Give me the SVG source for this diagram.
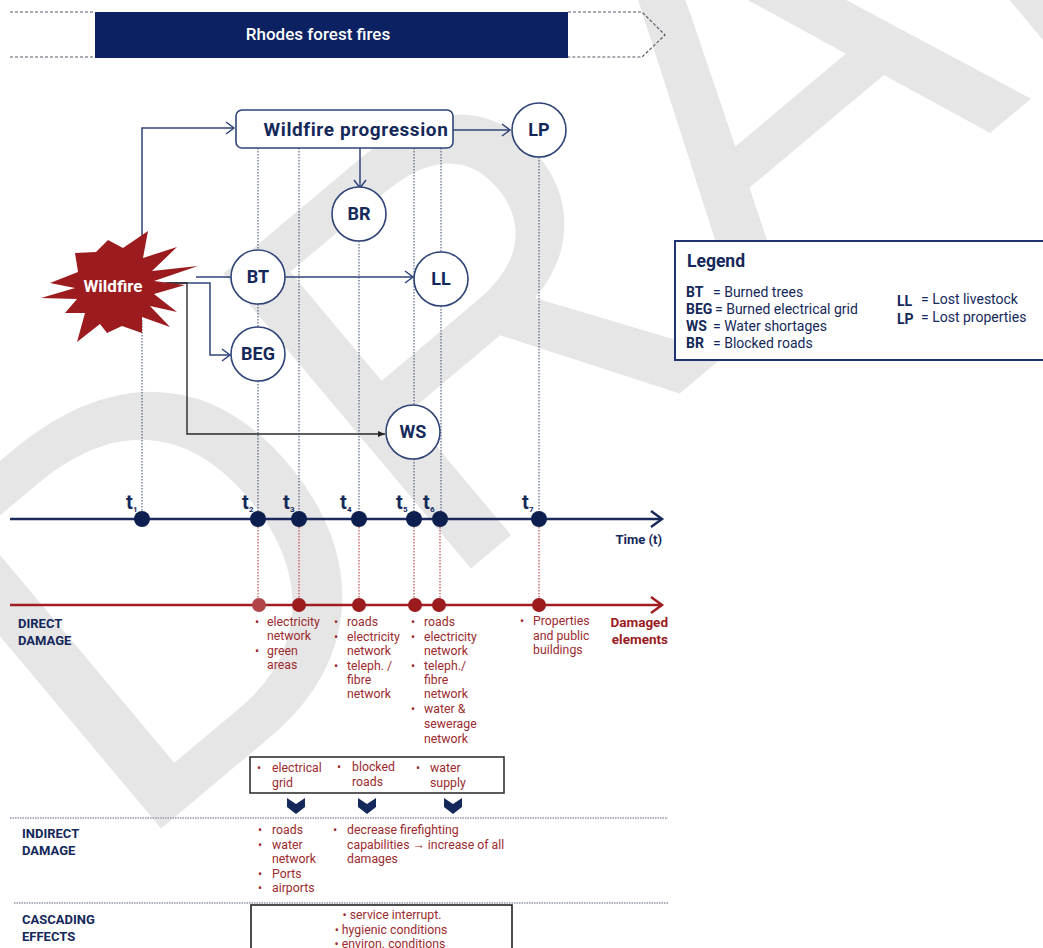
<svg xmlns="http://www.w3.org/2000/svg" width="1043" height="948" viewBox="0 0 1043 948">
  <style>
    .navy-t { font-family: Roboto, "Liberation Sans", sans-serif; fill: #14285a; font-weight: bold; }
    .red-t { font-family: Roboto, "Liberation Sans", sans-serif; fill: #9c2a2e; font-size: 12.3px; }
    .node-c { fill: #ffffff; stroke: #2f4477; stroke-width: 1.6; }
    .node-t { font-family: Roboto, "Liberation Sans", sans-serif; font-weight: bold; font-size: 18px; fill: #14285a; text-anchor: middle; }
    .conn { fill: none; stroke: #2f4477; stroke-width: 1.5; }
    .dot-navy { fill: none; stroke: #34446e; stroke-width: 1; stroke-dasharray: 1.5 1.5; }
    .dot-red { fill: none; stroke: #b5272c; stroke-width: 1; stroke-dasharray: 1.5 1.5; }
    .sep { fill: none; stroke: #a9b0bb; stroke-width: 2; stroke-dasharray: 1.5 1; }
    .hdr-dash { fill: none; stroke: #555a66; stroke-width: 1.2; stroke-dasharray: 3 2; }
    .tlab { font-family: Roboto, "Liberation Sans", sans-serif; font-weight: bold; font-size: 20px; fill: #14285a; }
    .tsub { font-family: Roboto, "Liberation Sans", sans-serif; font-weight: bold; font-size: 8px; fill: #14285a; }
    .leg-k { font-family: Roboto, "Liberation Sans", sans-serif; font-weight: bold; font-size: 14px; fill: #14285a; }
    .leg-v { font-family: Roboto, "Liberation Sans", sans-serif; font-size: 14px; fill: #14285a; }
  </style>
  <defs>
    <marker id="open" markerUnits="userSpaceOnUse" markerWidth="12" markerHeight="14" refX="9" refY="7" orient="auto">
      <path d="M1,1 L9,7 L1,13" fill="none" stroke="#2f4477" stroke-width="1.5"/>
    </marker>
    <marker id="solid" markerUnits="userSpaceOnUse" markerWidth="8" markerHeight="8" refX="7" refY="4" orient="auto">
      <path d="M0,1 L7,4 L0,7 Z" fill="#222"/>
    </marker>
    <marker id="axisNavy" markerUnits="userSpaceOnUse" markerWidth="16" markerHeight="20" refX="13" refY="10" orient="auto">
      <path d="M2,2 L13,10 L2,18" fill="none" stroke="#1b2a5c" stroke-width="2.5"/>
    </marker>
    <marker id="axisRed" markerUnits="userSpaceOnUse" markerWidth="16" markerHeight="20" refX="13" refY="10" orient="auto">
      <path d="M2,2 L13,10 L2,18" fill="none" stroke="#a11d22" stroke-width="2.5"/>
    </marker>
    <path id="chev" d="M-9,-8 L0,-2 L9,-8 L9,1 L0,8 L-9,1 Z" fill="#14285a"/>
  </defs>

  <rect width="1043" height="948" fill="#ffffff"/>

  <!-- watermark -->
  <text transform="translate(126,858) rotate(-40)" font-family="'Liberation Sans', sans-serif" font-size="560" fill="#e6e6e6">DRAFT</text>

  <!-- title banner -->
  <g id="title">
    <path class="hdr-dash" d="M10,12 H95 M10,57 H95 M568,12 H642 L665,35 L642,57 H568"/>
    <rect x="95" y="12" width="473" height="46" fill="#0b2161"/>
    <text x="318" y="40" font-family="Roboto, 'Liberation Sans', sans-serif" font-size="17" font-weight="500" fill="#ffffff" text-anchor="middle">Rhodes forest fires</text>
  </g>

  <!-- connectors -->
  <g id="connectors">
    <path class="conn" d="M142,240 V128 H234" marker-end="url(#open)"/>
    <path class="conn" d="M360,148 V188" marker-end="url(#open)"/>
    <path class="conn" d="M453,130 H510" marker-end="url(#open)"/>
    <path class="conn" d="M196,277 H231"/>
    <path class="conn" d="M285,277 H413" marker-end="url(#open)"/>
    <path class="conn" d="M167,283 H210 V355 H230" marker-end="url(#open)"/>
    <path d="M165,283 H187 V434 H385" fill="none" stroke="#2a2a2a" stroke-width="1.4" marker-end="url(#solid)"/>

    <!-- dotted time links -->
    <path class="dot-navy" d="M142,320 V519"/>
    <path class="dot-navy" d="M258,148 V250 M258,304 V327 M258,381 V519"/>
    <path class="dot-navy" d="M299,148 V519"/>
    <path class="dot-navy" d="M359,241 V519"/>
    <path class="dot-navy" d="M414,148 V405 M414,459 V519"/>
    <path class="dot-navy" d="M441,148 V252 M441,306 V519"/>
    <path class="dot-navy" d="M539,157 V519"/>

    <path class="dot-red" d="M258,527 V598 M299,527 V598 M359,527 V598 M414,527 V598 M440,527 V598 M539,527 V598"/>

    <!-- axes -->
    <path d="M10,519 H662" fill="none" stroke="#1b2a5c" stroke-width="2.5" marker-end="url(#axisNavy)"/>
    <path d="M10,605 H662" fill="none" stroke="#a11d22" stroke-width="2.5" marker-end="url(#axisRed)"/>
  </g>

  <!-- wildfire -->
  <g id="wildfire">
    <polygon fill="#9b1b1f" points="50,283 78,272 75,253 96,252 108,240 123,248 148,231 143,258 177,247 152,271 198,266 154,281 185,285 154,294 177,312 150,306 170,327 142,317 142,333 122,326 107,333 100,324 77,342 85,313 65,313 77,299 41,298 75,288"/>
    <text x="113" y="292" font-family="Roboto, 'Liberation Sans', sans-serif" font-weight="bold" font-size="17" fill="#ffffff" text-anchor="middle">Wildfire</text>
  </g>

  <g id="progression">
    <rect x="236" y="110" width="217" height="38" rx="6" fill="#ffffff" stroke="#2f4477" stroke-width="1.6"/>
    <text x="356" y="136" class="navy-t" font-size="19" letter-spacing="0.6" text-anchor="middle">Wildfire progression</text>
  </g>

  <g id="node-LP"><circle class="node-c" cx="539" cy="130" r="27"/><text class="node-t" x="539" y="136">LP</text></g>
  <g id="node-BR"><circle class="node-c" cx="359" cy="214" r="27"/><text class="node-t" x="359" y="220">BR</text></g>
  <g id="node-BT"><circle class="node-c" cx="258" cy="277" r="27"/><text class="node-t" x="258" y="283">BT</text></g>
  <g id="node-LL"><circle class="node-c" cx="441" cy="279" r="27"/><text class="node-t" x="441" y="285">LL</text></g>
  <g id="node-BEG"><circle class="node-c" cx="258" cy="354" r="27"/><text class="node-t" x="258" y="360">BEG</text></g>
  <g id="node-WS"><circle class="node-c" cx="413" cy="432" r="27"/><text class="node-t" x="413" y="438">WS</text></g>

  <!-- legend -->
  <g id="legend">
    <rect x="675" y="241" width="380" height="119" fill="#ffffff" stroke="#1f3470" stroke-width="2"/>
    <text x="687" y="267" class="navy-t" font-size="17.5">Legend</text>
    <text class="leg-k" x="686" y="297">BT</text><text class="leg-v" x="713" y="297">= Burned trees</text>
    <text class="leg-k" x="686" y="314">BEG</text><text class="leg-v" x="715" y="314">= Burned electrical grid</text>
    <text class="leg-k" x="686" y="331">WS</text><text class="leg-v" x="713" y="331">= Water shortages</text>
    <text class="leg-k" x="686" y="348">BR</text><text class="leg-v" x="713" y="348">= Blocked roads</text>
    <text class="leg-k" x="897" y="306">LL</text><text class="leg-v" x="921" y="304">= Lost livestock</text>
    <text class="leg-k" x="897" y="324">LP</text><text class="leg-v" x="921" y="322">= Lost properties</text>
  </g>

  <!-- time axis -->
  <g id="time-axis">
    <g fill="#0d1f4f">
      <circle cx="142" cy="519" r="8"/><circle cx="258" cy="519" r="8"/><circle cx="299" cy="519" r="8"/>
      <circle cx="359" cy="519" r="8"/><circle cx="414" cy="519" r="8"/><circle cx="440" cy="519" r="8"/>
      <circle cx="539" cy="519" r="8"/>
    </g>
    <text class="tlab" x="126" y="509">t</text><text class="tsub" x="133" y="512">1</text>
    <text class="tlab" x="242" y="509">t</text><text class="tsub" x="249" y="512">2</text>
    <text class="tlab" x="283" y="509">t</text><text class="tsub" x="290" y="512">3</text>
    <text class="tlab" x="340" y="509">t</text><text class="tsub" x="347" y="512">4</text>
    <text class="tlab" x="396" y="509">t</text><text class="tsub" x="403" y="512">5</text>
    <text class="tlab" x="423" y="509">t</text><text class="tsub" x="430" y="512">6</text>
    <text class="tlab" x="522" y="509">t</text><text class="tsub" x="529" y="512">7</text>
    <text x="662" y="544" class="navy-t" font-size="13" text-anchor="end">Time (t)</text>
  </g>

  <!-- direct damage -->
  <g id="direct-damage">
    <circle cx="259" cy="605" r="7" fill="#b04448"/>
    <g fill="#9b1b1f">
      <circle cx="299" cy="605" r="7"/><circle cx="359" cy="605" r="7"/><circle cx="415" cy="605" r="7"/>
      <circle cx="439" cy="605" r="7"/><circle cx="539" cy="605" r="7"/>
    </g>
    <text x="18" y="628" class="navy-t" font-size="13">DIRECT</text>
    <text x="18" y="645" class="navy-t" font-size="13">DAMAGE</text>
    <text x="668" y="627" font-family="Roboto, 'Liberation Sans', sans-serif" font-weight="bold" font-size="13.5" fill="#9b1b1f" text-anchor="end">Damaged</text>
    <text x="668" y="644" font-family="Roboto, 'Liberation Sans', sans-serif" font-weight="bold" font-size="13.5" fill="#9b1b1f" text-anchor="end">elements</text>
    <g class="red-t">
      <text x="255" y="626">•</text><text x="267" y="626">electricity</text>
      <text x="267" y="640">network</text>
      <text x="255" y="655">•</text><text x="267" y="655">green</text>
      <text x="267" y="669">areas</text>

      <text x="334" y="626">•</text><text x="347" y="626">roads</text>
      <text x="334" y="641">•</text><text x="347" y="641">electricity</text>
      <text x="347" y="655">network</text>
      <text x="334" y="670">•</text><text x="347" y="670">teleph. /</text>
      <text x="347" y="684">fibre</text>
      <text x="347" y="698">network</text>

      <text x="411" y="626">•</text><text x="424" y="626">roads</text>
      <text x="411" y="641">•</text><text x="424" y="641">electricity</text>
      <text x="424" y="655">network</text>
      <text x="411" y="670">•</text><text x="424" y="670">teleph./</text>
      <text x="424" y="684">fibre</text>
      <text x="424" y="698">network</text>
      <text x="411" y="713">•</text><text x="424" y="713">water &amp;</text>
      <text x="424" y="728">sewerage</text>
      <text x="424" y="743">network</text>

      <text x="520" y="625">•</text><text x="533" y="625">Properties</text>
      <text x="533" y="640">and public</text>
      <text x="533" y="654">buildings</text>
    </g>
  </g>

  <!-- affected systems -->
  <g id="systems">
    <rect x="250" y="757" width="254" height="36" fill="#ffffff" stroke="#333333" stroke-width="1.6"/>
    <g class="red-t">
      <text x="257" y="772">•</text><text x="272" y="772">electrical</text>
      <text x="272" y="787">grid</text>
      <text x="337" y="771">•</text><text x="352" y="771">blocked</text>
      <text x="352" y="786">roads</text>
      <text x="416" y="772">•</text><text x="430" y="772">water</text>
      <text x="430" y="787">supply</text>
    </g>
    <use href="#chev" x="296" y="806"/>
    <use href="#chev" x="367" y="806"/>
    <use href="#chev" x="453" y="806"/>
  </g>

  <path class="sep" d="M10,818 H668"/>
  <path class="sep" d="M14,903 H668"/>

  <!-- indirect damage -->
  <g id="indirect-damage">
    <text x="22" y="838" class="navy-t" font-size="13">INDIRECT</text>
    <text x="22" y="855" class="navy-t" font-size="13">DAMAGE</text>
    <g class="red-t">
      <text x="258" y="834">•</text><text x="272" y="834">roads</text>
      <text x="258" y="849">•</text><text x="272" y="849">water</text>
      <text x="272" y="863">network</text>
      <text x="258" y="878">•</text><text x="272" y="878">Ports</text>
      <text x="258" y="892">•</text><text x="272" y="892">airports</text>
      <text x="333" y="834">•</text><text x="347" y="834">decrease firefighting</text>
      <text x="347" y="849">capabilities → increase of all</text>
      <text x="347" y="863">damages</text>
    </g>
  </g>

  <!-- cascading effects -->
  <g id="cascading">
    <text x="22" y="924" class="navy-t" font-size="13">CASCADING</text>
    <text x="22" y="941" class="navy-t" font-size="13">EFFECTS</text>
    <rect x="251" y="905" width="261" height="60" fill="#ffffff" stroke="#222222" stroke-width="1.6"/>
    <g class="red-t" text-anchor="middle">
      <text x="392" y="919">•  service interrupt.</text>
      <text x="391" y="934">•  hygienic conditions</text>
      <text x="390" y="948">•  environ. conditions</text>
    </g>
  </g>
</svg>
